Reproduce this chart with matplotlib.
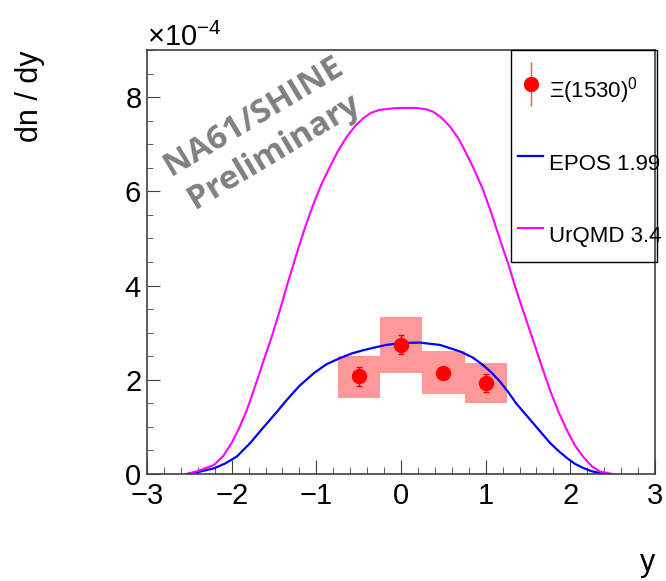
import numpy as np
import matplotlib
matplotlib.use("Agg")
import matplotlib.pyplot as plt
from matplotlib.ticker import MultipleLocator, ScalarFormatter
from matplotlib.legend_handler import HandlerErrorbar
from matplotlib.patches import Rectangle
from matplotlib.container import ErrorbarContainer

plt.rcParams["font.family"] = ["Liberation Sans", "DejaVu Sans"]
plt.rcParams["mathtext.fontset"] = "custom"
plt.rcParams["mathtext.rm"] = "Liberation Sans"

# measured Xi(1530)^0 rapidity spectrum
y_pts = [-0.5, 0.0, 0.5, 1.0]
dndy = np.array([2.07, 2.74, 2.15, 1.93]) * 1e-4
dndy_stat = np.array([0.20, 0.20, 0.12, 0.20]) * 1e-4
sys_lo = np.array([1.61, 2.14, 1.70, 1.51]) * 1e-4
sys_hi = np.array([2.51, 3.33, 2.61, 2.36]) * 1e-4

# model curves
epos_y = [-2.53, -2.4, -2.21, -2.08, -1.94, -1.78, -1.62, -1.48, -1.35, -1.2, -1.03,
          -0.88, -0.72, -0.58, -0.44, -0.3, -0.17, 0.0, 0.22, 0.46, 0.70, 0.85, 0.97,
          1.07, 1.17, 1.27, 1.36, 1.46, 1.56, 1.66, 1.76, 1.86, 1.96, 2.05, 2.15,
          2.25, 2.35, 2.45]
epos = np.array([0.0, 0.04, 0.12, 0.22, 0.37, 0.66, 1.0, 1.29, 1.57, 1.87, 2.14,
                 2.33, 2.46, 2.56, 2.63, 2.69, 2.74, 2.78, 2.79, 2.74, 2.60, 2.47, 2.31,
                 2.15, 1.96, 1.73, 1.50, 1.29, 1.08, 0.87, 0.66, 0.49, 0.34, 0.22, 0.13,
                 0.06, 0.02, 0.0]) * 1e-4

urqmd_y = [-2.53, -2.39, -2.21, -2.1, -2.0, -1.91, -1.82, -1.72, -1.62, -1.52, -1.43,
           -1.33, -1.23, -1.13, -1.03, -0.94, -0.84, -0.74, -0.64, -0.54, -0.44, -0.35,
           -0.25, -0.1, 0.0, 0.19, 0.3, 0.38, 0.48, 0.58, 0.68, 0.77, 0.87, 0.97, 1.07,
           1.17, 1.27, 1.36, 1.46, 1.56, 1.66, 1.76, 1.86, 1.96, 2.05, 2.15, 2.25,
           2.35, 2.5]
urqmd = np.array([0.0, 0.07, 0.19, 0.38, 0.66, 0.98, 1.36, 1.88, 2.42, 2.95, 3.48,
                  4.10, 4.69, 5.25, 5.75, 6.15, 6.52, 6.87, 7.16, 7.39, 7.56, 7.67,
                  7.73, 7.76, 7.77, 7.77, 7.74, 7.69, 7.56, 7.37, 7.12, 6.81, 6.44,
                  6.03, 5.52, 4.97, 4.44, 3.91, 3.37, 2.84, 2.30, 1.78, 1.32, 0.93,
                  0.62, 0.37, 0.17, 0.05, 0.0]) * 1e-4

fig = plt.figure(figsize=(6.66, 5.81), dpi=100)
ax = fig.add_axes([147 / 666, 107 / 581, 508 / 666, 424 / 581])

# systematic boxes
ax.bar(y_pts, sys_hi - sys_lo, bottom=sys_lo, width=0.5, color="#ff9999",
       edgecolor="none", zorder=1)

ax.plot(epos_y, epos, color="#0000ff", lw=1.6, label="EPOS 1.99", zorder=2)
ax.plot(urqmd_y, urqmd, color="#ff00ff", lw=1.5, label="UrQMD 3.4", zorder=2)

ax.errorbar(y_pts, dndy, yerr=dndy_stat, fmt="o", color="#ff0000", ms=10,
            elinewidth=1, capsize=2, capthick=1, zorder=3)
# legend proxy for the data: marker with plain vertical error line (ROOT style)
data_handle = ax.errorbar([], [], yerr=[], fmt="o", color="#ff0000", ms=10,
                          elinewidth=1, ecolor="#ff5050")

ax.text(-1.62, 7.22e-4, "NA61/SHINE\nPreliminary", family=["Open Sans", "DejaVu Sans"],
        fontweight="bold", fontsize=24, color="#808080", rotation=31,
        ha="center", va="center", multialignment="center", linespacing=1.3)

ax.set_xlim(-3, 3)
ax.set_ylim(0, 9e-4)
ax.xaxis.set_major_locator(MultipleLocator(1))
ax.xaxis.set_minor_locator(MultipleLocator(0.2))
ax.yaxis.set_major_locator(MultipleLocator(2e-4))
ax.yaxis.set_minor_locator(MultipleLocator(0.5e-4))

fmt = ScalarFormatter(useMathText=True)
fmt.set_powerlimits((-3, 3))
ax.yaxis.set_major_formatter(fmt)
ax.yaxis.get_offset_text().set_fontsize(21)

ax.tick_params(which="both", direction="in", labelsize=21, colors="#404040",
               labelcolor="black", top=False, right=False)
ax.tick_params(axis="x", which="major", length=10, pad=6)
ax.tick_params(axis="x", which="minor", length=5)
ax.tick_params(axis="y", which="major", length=9, pad=4)
ax.tick_params(axis="y", which="minor", length=4.5)
for s in ax.spines.values():
    s.set_color("#404040")
    s.set_linewidth(1.2)

ax.set_ylabel("dn / dy", fontsize=22, loc="top")
ax.yaxis.set_label_coords(-0.2, 1.0)
ax.set_xlabel("y", fontsize=22, loc="right")
ax.xaxis.set_label_coords(1.0, -0.175)

lines = ax.get_lines()
handles = [data_handle, lines[0], lines[1]]
labels = [r"$\Xi(1530)^{0}$", "EPOS 1.99", "UrQMD 3.4"]
leg = ax.legend(handles, labels, loc="upper left", bbox_to_anchor=(0.731, 0.952),
                borderaxespad=0, fontsize=16, labelspacing=1.37, handleheight=2.5,
                handlelength=1.13, handletextpad=0.27, borderpad=0,
                frameon=False,
                handler_map={ErrorbarContainer: HandlerErrorbar(xerr_size=1.0, yerr_size=1.0)})
# ROOT-style legend frame
ax.add_patch(Rectangle((0.717, 0.5), 0.287, 0.5, transform=ax.transAxes,
                       fill=False, edgecolor="black", lw=1.0, clip_on=False, zorder=5))

fig.savefig("out.png", dpi=100)
